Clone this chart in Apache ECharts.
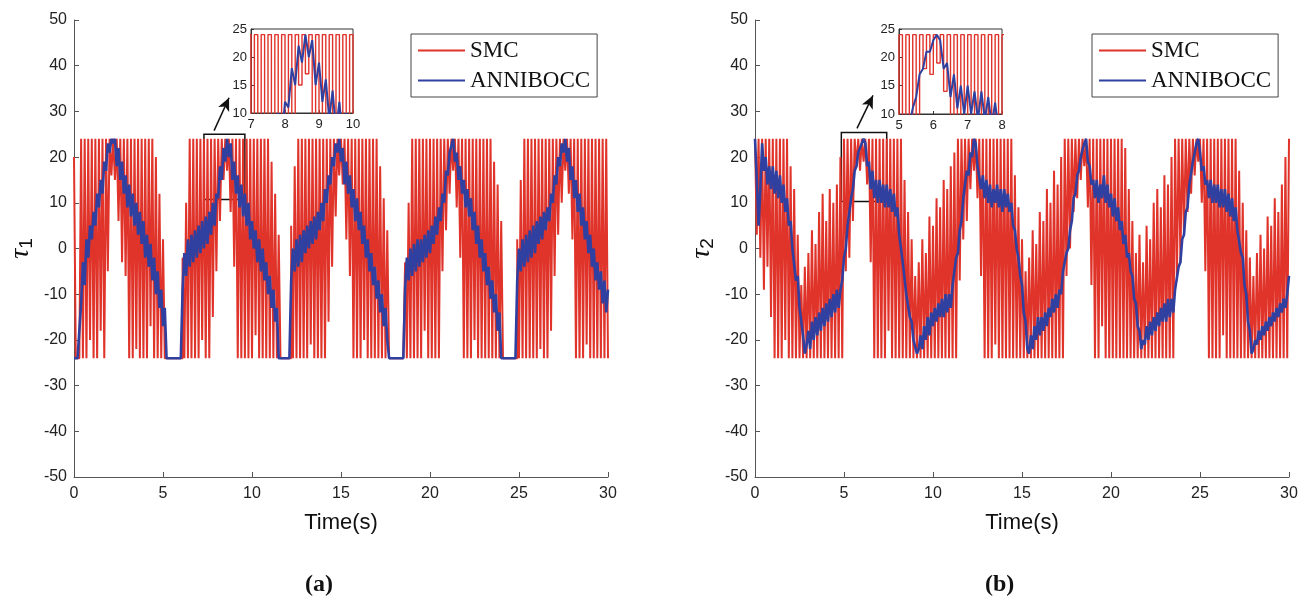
<!DOCTYPE html>
<html><head><meta charset="utf-8">
<script src="https://cdn.jsdelivr.net/npm/echarts@6/dist/echarts.min.js"></script>
<style>html,body{margin:0;padding:0;background:#fff}#c{width:1309px;height:600px}</style>
</head><body><div id="c"></div>
<script>
// sample step of every series (s)
const DT = 0.1;

// ---------- panel (a): tau_1 ----------
const A_SMC = [
20,-24,-24,-24,24,-24,24,-24,24,-20,
24,-24,24,-24,24,-18,24,-24,24,-5,
24,16,24,15,24,6,24,-3,24,-6,
24,-24,24,-24,24,-22,24,-24,24,-24,
24,-24,24,-17,24,-24,20,-24,12,-24,
2,-24,-24,-24,-24,-24,-24,-24,-24,-24,
-24,-2,-24,10,-24,24,-24,24,-24,24,
-24,24,-20,24,-24,24,-24,24,-15,24,
-5,24,6,24,15,24,17,24,8,24,
-4,24,-24,24,-24,24,-24,24,-24,24,
-24,24,-19,24,-24,24,-24,24,-24,24,
-24,19,-24,12,-24,3,-24,-24,-24,-24,
-24,-24,5,-24,18,-24,24,-24,24,-24,
24,-24,24,-21,24,-24,24,-24,24,-24,
24,-24,24,-16,24,-4,24,7,24,16,
24,14,24,2,24,-6,24,-24,24,-24,
24,-24,24,-20,24,-24,24,-24,24,-24,
24,-24,18,-24,11,-24,4,-24,-24,-24,
-24,-24,-24,-24,-24,-24,-3,-24,10,-24,
24,-24,24,-24,24,-24,24,-18,24,-24,
24,-24,24,-24,24,-24,24,-5,24,4,
24,12,24,17,24,9,24,-2,24,-24,
24,-24,24,-24,24,-20,24,-24,24,-24,
24,-24,24,-24,24,-24,19,-24,14,-24,
6,-24,-24,-24,-24,-24,-24,-24,-24,2,
-24,15,-24,24,-24,24,-24,24,-24,24,
-24,24,-22,24,-24,24,-24,24,-18,24,
-6,24,3,24,10,24,17,24,12,24,
2,24,-24,24,-24,24,-24,24,-21,24,
-24,24,-24,24,-24,24,-24,24,-24,24,
-24];
const A_ANN = [
-24,-24,-24,-24,-12,-3,-8,2,-2,5,
2,8,5,12,9,15,12,19,17,23,
21,24,23,24,18,22,15,19,12,16,
9,14,7,12,5,10,3,8,1,6,
-2,3,-4,1,-7,-2,-10,-5,-13,-9,
-17,-13,-24,-24,-24,-24,-24,-24,-24,-24,
-24,-9,-1,-6,2,-4,3,-3,4,-2,
5,-1,6,0,7,1,8,3,10,5,
12,11,18,15,22,19,24,20,23,15,
19,12,16,9,14,7,12,5,10,2,
6,0,4,-3,2,-5,0,-7,-3,-10,
-6,-13,-9,-16,-13,-24,-24,-24,-24,-24,
-24,-24,-7,0,-5,2,-4,3,-3,4,
-1,5,0,6,1,7,2,8,4,10,
6,13,10,16,14,20,18,23,21,24,
19,22,14,19,12,16,9,13,6,11,
4,8,1,5,-2,2,-5,-1,-8,-4,
-11,-7,-14,-10,-17,-13,-20,-24,-24,-24,
-24,-24,-24,-24,-24,-24,-9,-2,-7,0,
-6,1,-5,2,-4,2,-3,3,-2,4,
-1,5,1,7,3,9,6,12,10,17,
16,21,21,24,19,21,15,18,12,15,
9,13,7,11,4,8,1,5,-2,2,
-5,-1,-8,-4,-11,-7,-14,-10,-18,-14,
-24,-24,-24,-24,-24,-24,-24,-24,-24,-7,
0,-5,2,-4,3,-3,4,-2,5,-1,
6,1,7,2,8,4,9,6,12,10,
16,14,20,18,23,21,24,19,22,15,
18,11,15,8,12,5,9,2,6,-1,
3,-4,0,-7,-3,-9,-5,-12,-7,-14,
-9];

// ---------- panel (b): tau_2 ----------
const B_SMC = [
24,3,24,-2,24,-9,24,-4,24,-15,
24,-24,24,-24,24,-24,24,-20,24,-24,
18,-24,13,-24,3,-24,-8,-24,-4,-24,
-1,-24,4,-24,1,-24,8,-24,12,-24,
6,-24,13,-24,10,-24,14,-24,20,-24,
24,-5,24,-2,24,6,24,18,24,17,
24,19,24,14,24,-3,24,-24,24,-24,
24,-24,24,-24,24,-18,24,-24,24,-24,
24,-24,24,-24,15,-24,8,-24,2,-24,
-6,-24,-3,-24,2,-24,-1,-24,7,-24,
5,-24,11,-24,9,-24,15,-24,13,-24,
18,-24,21,-24,24,-7,24,2,24,6,
24,13,24,17,24,11,24,-6,24,-24,
24,-24,24,-24,24,-21,24,-24,24,-24,
24,-24,24,-24,24,-24,16,-24,9,-24,
2,-24,-5,-24,-2,-24,4,-24,1,-24,
8,-24,6,-24,13,-24,10,-24,17,-24,
14,-24,20,-24,24,-6,24,0,24,8,
24,11,24,15,24,18,24,9,24,-8,
24,-24,24,-24,24,-17,24,-24,24,-24,
24,-24,24,-24,24,-24,24,-24,22,-24,
13,-24,6,-24,-1,-24,3,-24,-3,-24,
5,-24,2,-24,10,-24,13,-24,9,-24,
16,-24,14,-24,20,-24,24,-7,24,-3,
24,3,24,8,24,12,24,16,24,19,
24,10,24,-5,24,-24,24,-24,24,-24,
24,-24,24,-19,24,-24,24,-24,24,-24,
24,-24,17,-24,10,-24,4,-24,-2,-24,
-6,-24,-1,-24,3,-24,0,-24,7,-24,
5,-24,11,-24,8,-24,14,-24,20,-24,
24];
const B_ANN = [
24,15,5,13,23,17,20,14,18,13,
18,12,17,11,16,10,14,8,11,5,
6,0,0,-7,-6,-13,-13,-19,-23,-21,
-18,-22,-16,-20,-15,-19,-14,-18,-13,-17,
-12,-16,-11,-15,-10,-14,-9,-13,-9,-7,
-2,0,5,8,11,13,17,18,21,21,
23,24,23,18,19,13,17,11,15,10,
15,10,14,9,14,9,13,8,12,7,
9,3,3,-3,-3,-10,-10,-15,-16,-20,
-20,-23,-22,-19,-22,-17,-20,-15,-19,-14,
-17,-13,-16,-12,-15,-11,-15,-10,-14,-10,
-13,-8,-8,-2,-1,4,6,11,11,17,
16,21,20,24,23,18,18,13,16,11,
15,10,14,9,13,10,14,9,13,8,
13,9,12,8,10,5,4,0,-2,-6,
-8,-14,-16,-22,-23,-19,-22,-17,-20,-15,
-19,-15,-18,-14,-17,-13,-15,-11,-14,-10,
-13,-9,-10,-5,-5,-1,0,4,6,11,
12,16,17,20,20,23,24,19,18,14,
15,11,15,10,14,11,16,10,14,9,
12,7,11,6,9,4,6,1,3,-2,
-1,-5,-6,-11,-12,-17,-18,-22,-20,-21,
-17,-20,-16,-19,-15,-18,-14,-17,-13,-16,
-12,-16,-11,-15,-11,-14,-9,-9,-4,-3,
2,3,8,9,14,14,19,19,23,24,
21,17,18,14,15,11,15,10,14,10,
14,9,13,9,13,8,12,7,11,6,
9,4,4,-1,-2,-8,-10,-16,-18,-23,
-22,-20,-21,-18,-20,-17,-19,-16,-18,-15,
-17,-14,-16,-13,-15,-12,-14,-11,-13,-10,
-6];

// zoomed windows (data coordinates) and arrows
const ZOOM_A = {x:[7.3, 9.6], y:[10.7, 25]};
const ZOOM_B = {x:[4.85, 7.4], y:[10.3, 25.4]};
const ARROW_A = [[7.87, 25.8], [8.71, 33]];
const ARROW_B = [[5.73, 26.3], [6.63, 33.5]];
const INSET_A = {x:[7, 10], y:[10, 25]};
const INSET_B = {x:[5, 8], y:[10, 25]};
const SERIES_NAMES = ['SMC', 'ANNIBOCC'];

function pts(arr){ return arr.map((v,i)=>[Math.round(i*DT*10)/10, v]); }

const RED = '#e0332a', BLUE = '#2f40a0';
const SANS = "'Liberation Sans', Arial, sans-serif";
const SERIF = "'Liberation Serif', 'Times New Roman', serif";

function mainX(gi){
  return {gridIndex:gi, type:'value', min:0, max:30, interval:5,
    axisLine:{onZero:false, lineStyle:{color:'#555', width:1}},
    axisTick:{inside:true, length:5, lineStyle:{color:'#555'}},
    axisLabel:{color:'#222', fontSize:16, fontFamily:SANS, margin:9},
    splitLine:{show:false},
    name:'Time(s)', nameLocation:'middle', nameGap:35,
    nameTextStyle:{color:'#111', fontSize:22, fontFamily:SANS}};
}
function mainY(gi, sub){
  return {gridIndex:gi, type:'value', min:-50, max:50, interval:10,
    axisLine:{onZero:false, lineStyle:{color:'#555', width:1}},
    axisTick:{inside:true, length:5, lineStyle:{color:'#555'}},
    axisLabel:{color:'#222', fontSize:16, fontFamily:SANS, margin:7},
    splitLine:{show:false},
    name:'{t|τ}{s|'+sub+'}', nameLocation:'middle', nameGap:38, nameRotate:90,
    nameTextStyle:{rich:{
      t:{fontSize:28, fontFamily:SERIF, fontStyle:'italic', color:'#111'},
      s:{fontSize:19, fontFamily:SANS, color:'#111', padding:[12,0,0,0]}}}};
}
function insetX(gi, r){
  return {gridIndex:gi, type:'value', min:r[0], max:r[1], interval:1,
    axisLine:{onZero:false, lineStyle:{color:'#333'}},
    axisTick:{inside:true, length:3, lineStyle:{color:'#333'}},
    axisLabel:{color:'#222', fontSize:13, fontFamily:SANS, margin:5},
    splitLine:{show:false}};
}
function insetY(gi, r){
  return {gridIndex:gi, type:'value', min:r[0], max:r[1], interval:5,
    axisLine:{onZero:false, lineStyle:{color:'#333'}},
    axisTick:{inside:true, length:3, lineStyle:{color:'#333'}},
    axisLabel:{color:'#222', fontSize:13, fontFamily:SANS, margin:4},
    splitLine:{show:false}};
}
function smc(ax, data, w){
  return {name:SERIES_NAMES[0], type:'line', xAxisIndex:ax, yAxisIndex:ax, data:pts(data),
    step:'end', showSymbol:false, symbol:'none', color:RED, lineStyle:{color:RED, width:w},
    itemStyle:{color:RED}, animation:false, silent:true, clip:true, z:2};
}
function ann(ax, data, w){
  return {name:SERIES_NAMES[1], type:'line', xAxisIndex:ax, yAxisIndex:ax, data:pts(data),
    showSymbol:false, symbol:'none', color:BLUE, lineStyle:{color:BLUE, width:w, join:'bevel'},
    itemStyle:{color:BLUE}, animation:false, silent:true, clip:true, z:3};
}
function marks(ax, zoom, arrow){
  return {name:'marks', type:'line', xAxisIndex:ax, yAxisIndex:ax, data:[], z:10, silent:true,
    animation:false,
    markArea:{silent:true, itemStyle:{color:'rgba(0,0,0,0)', borderColor:'#111', borderWidth:1.5},
      data:[[{coord:[zoom.x[0], zoom.y[1]]},{coord:[zoom.x[1], zoom.y[0]]}]]},
    markLine:{silent:true, symbol:['none','arrow'], symbolSize:[9,13], animation:false,
      lineStyle:{color:'#111', width:1.5, type:'solid'}, label:{show:false},
      data:[[{coord:arrow[0]},{coord:arrow[1]}]]}};
}
function legend(left){
  return {left:left, top:34, orient:'vertical', data:SERIES_NAMES, icon:'rect',
    itemWidth:47, itemHeight:2, itemGap:7, padding:[5,7,5,7],
    borderColor:'#444', borderWidth:1, backgroundColor:'#fff', selectedMode:false,
    textStyle:{fontFamily:SERIF, fontSize:23, color:'#111', lineHeight:23}};
}

const chart = echarts.init(document.getElementById('c'), null, {renderer:'canvas'});
chart.setOption({
  animation:false,
  backgroundColor:'#fff',
  title:[
    {text:'(a)', left:300, top:568, textStyle:{fontFamily:SERIF, fontWeight:'bold', fontSize:24, color:'#111'}},
    {text:'(b)', left:980, top:568, textStyle:{fontFamily:SERIF, fontWeight:'bold', fontSize:24, color:'#111'}}
  ],
  legend:[legend(411), legend(1092)],
  grid:[
    {left:74, top:20, width:534, height:457},
    {left:755, top:20, width:534, height:457},
    {left:251, top:29, width:102, height:84, show:true, borderColor:'#333', borderWidth:1},
    {left:899, top:29, width:103, height:85, show:true, borderColor:'#333', borderWidth:1}
  ],
  xAxis:[mainX(0), mainX(1), insetX(2, INSET_A.x), insetX(3, INSET_B.x)],
  yAxis:[mainY(0,'1'), mainY(1,'2'), insetY(2, INSET_A.y), insetY(3, INSET_B.y)],
  series:[
    smc(0, A_SMC, 2), ann(0, A_ANN, 2.6),
    smc(1, B_SMC, 2), ann(1, B_ANN, 2.6),
    smc(2, A_SMC, 1.4), ann(2, A_ANN, 2),
    smc(3, B_SMC, 1.4), ann(3, B_ANN, 2),
    marks(0, ZOOM_A, ARROW_A), marks(1, ZOOM_B, ARROW_B)
  ]
});
</script></body></html>
